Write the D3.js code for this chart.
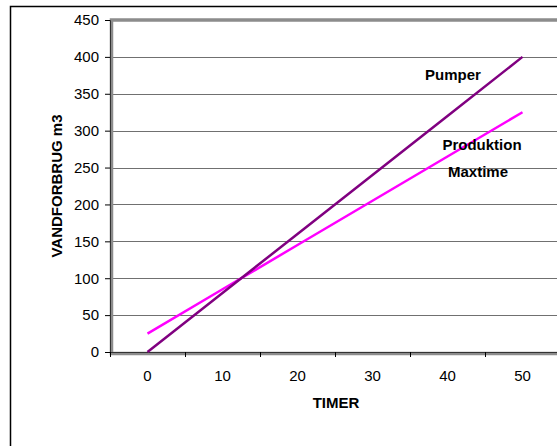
<!DOCTYPE html>
<html>
<head>
<meta charset="utf-8">
<script src="https://cdn.jsdelivr.net/npm/d3@7"></script>
<style>
  body { margin: 0; background: #fff; }
  svg text { font-family: "Liberation Sans", Arial, sans-serif; }
</style>
</head>
<body>
<div id="chart"></div>
<script>
// data
const timer = [0, 10, 20, 30, 40, 50];
const pumper = [0, 80, 160, 240, 320, 400];
const produktion = [25, 85, 145, 205, 265, 325];
const yTicks = [0, 50, 100, 150, 200, 250, 300, 350, 400, 450];

const width = 557;
const height = 446;

// plot area
const plotL = 110, plotR = 560, plotT = 20, plotB = 352;

const svg = d3.select("#chart")
  .append("svg")
  .attr("width", width)
  .attr("height", height);

// outer chart border (runs off the right and bottom edge)
svg.append("rect")
  .attr("x", 10.5)
  .attr("y", 6.5)
  .attr("width", 600)
  .attr("height", 500)
  .attr("fill", "none")
  .attr("stroke", "#000")
  .attr("stroke-width", 1.5);

const x = d3.scaleBand()
  .domain(timer)
  .range([plotL, plotR]);

const y = d3.scaleLinear()
  .domain([0, 450])
  .range([plotB, plotT]);

// gridlines
svg.append("g")
  .selectAll("line")
  .data(yTicks.filter(d => d > 0 && d < 450))
  .enter()
  .append("line")
  .attr("x1", plotL)
  .attr("x2", plotR)
  .attr("y1", d => Math.round(y(d)) + 0.5)
  .attr("y2", d => Math.round(y(d)) + 0.5)
  .attr("stroke", "#707070")
  .attr("stroke-width", 1);

// grey plot border, excel style
svg.append("rect")
  .attr("x", plotL + 1.5)
  .attr("y", plotT)
  .attr("width", plotR - plotL)
  .attr("height", plotB - plotT + 1.5)
  .attr("fill", "none")
  .attr("stroke", "#8c8c8c")
  .attr("stroke-width", 3.5);

// y axis
const yAxis = svg.append("g")
  .attr("transform", `translate(${plotL},0)`)
  .call(d3.axisLeft(y).tickValues(yTicks).tickSize(5).tickPadding(6));
yAxis.select(".domain").attr("stroke", "#333").attr("stroke-width", 1);
yAxis.selectAll(".tick line").attr("stroke", "#000");
yAxis.selectAll("text")
  .style("font-size", "15px")
  .attr("fill", "#000");

// x axis: ticks sit between categories
const xAxis = svg.append("g")
  .attr("transform", `translate(0,${plotB})`)
  .call(d3.axisBottom(x).tickSize(0).tickPadding(18));
xAxis.select(".domain").attr("stroke", "#333").attr("stroke-width", 1);
xAxis.selectAll("text")
  .style("font-size", "15px")
  .attr("fill", "#000");

svg.append("g")
  .selectAll("line")
  .data(timer)
  .enter()
  .append("line")
  .attr("x1", d => x(d) + 0.5)
  .attr("x2", d => x(d) + 0.5)
  .attr("y1", plotB)
  .attr("y2", plotB + 5)
  .attr("stroke", "#000");

// lines
const line = d3.line()
  .x((d, i) => x(timer[i]) + x.bandwidth() / 2)
  .y(d => y(d));

svg.append("path")
  .datum(produktion)
  .attr("d", line)
  .attr("fill", "none")
  .attr("stroke", "#ff00ff")
  .attr("stroke-width", 2.5);

svg.append("path")
  .datum(pumper)
  .attr("d", line)
  .attr("fill", "none")
  .attr("stroke", "#800080")
  .attr("stroke-width", 2.5);

// series labels
const labels = [
  { text: "Pumper", x: 453, y: 80 },
  { text: "Produktion", x: 482, y: 150 },
  { text: "Maxtime", x: 478, y: 177 }
];
svg.append("g")
  .selectAll("text")
  .data(labels)
  .enter()
  .append("text")
  .attr("x", d => d.x)
  .attr("y", d => d.y)
  .attr("text-anchor", "middle")
  .style("font-size", "15px")
  .style("font-weight", "bold")
  .text(d => d.text);

// axis titles
svg.append("text")
  .attr("x", 336)
  .attr("y", 408)
  .attr("text-anchor", "middle")
  .style("font-size", "15px")
  .style("font-weight", "bold")
  .text("TIMER");

svg.append("text")
  .attr("transform", "rotate(-90)")
  .attr("x", -186)
  .attr("y", 62)
  .attr("text-anchor", "middle")
  .style("font-size", "15px")
  .style("font-weight", "bold")
  .text("VANDFORBRUG m3");
</script>
</body>
</html>
